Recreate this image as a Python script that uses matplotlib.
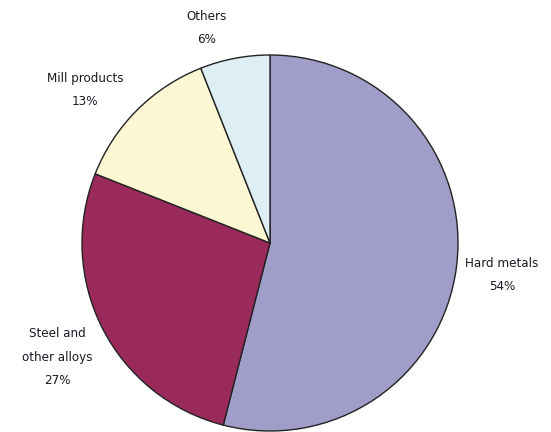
import matplotlib.pyplot as plt

categories = ["Hard metals", "Steel and\nother alloys", "Mill products", "Others"]
shares = [54, 27, 13, 6]
colors = ["#a09dc8", "#9b2a5c", "#fdf8d3", "#ddeef5"]

# label anchor points in pixels (x from left, y from top), centre of text block
label_pos = [(502, 275), (57, 357), (85, 90), (207, 28)]

plt.rcParams['font.family'] = ['DejaVu Sans']
plt.rcParams['font.stretch'] = 'condensed'

W, H = 551, 432
fig = plt.figure(figsize=(W / 100, H / 100), dpi=100)

cx, cy, r = 270, 243, 188
ax = fig.add_axes([(cx - r) / W, (H - cy - r) / H, 2 * r / W, 2 * r / H])
ax.pie(shares, colors=colors, startangle=90, counterclock=False,
       wedgeprops=dict(edgecolor="#222222", linewidth=1.0))
ax.set_aspect("auto")
ax.set_xlim(-1.0, 1.0)
ax.set_ylim(-1.0, 1.0)
ax.axis("off")

for name, val, (x, y) in zip(categories, shares, label_pos):
    fig.text(x / W, 1 - y / H, f"{name}\n{val}%", ha="center", va="center",
             fontsize=9.5, color="#1a1a24", linespacing=2.05, stretch="condensed")

fig.savefig("out.png", dpi=100)
